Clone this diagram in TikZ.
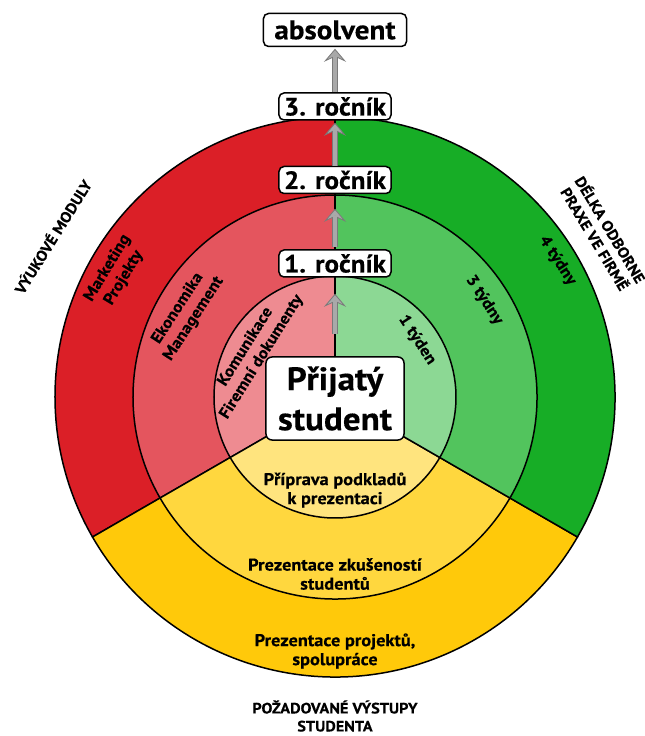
\documentclass[tikz,border=0pt]{standalone}
\usepackage{fontspec}
\setmainfont{PT Sans}[BoldFeatures={FakeStretch=1.08,FakeBold=0.35}]
\usetikzlibrary{arrows.meta}
\definecolor{redA}{HTML}{DB1F27}
\definecolor{redB}{HTML}{E4555E}
\definecolor{redC}{HTML}{EE8B91}
\definecolor{grnA}{HTML}{17AD26}
\definecolor{grnB}{HTML}{52C45D}
\definecolor{grnC}{HTML}{8CD894}
\definecolor{ylwA}{HTML}{FFC90A}
\definecolor{ylwB}{HTML}{FFD73E}
\definecolor{ylwC}{HTML}{FFE47E}
\definecolor{arrlight}{HTML}{A9A9A9}
\definecolor{arrdark}{HTML}{7A7A7A}
% #1 from, #2 to, #3 shorten< (shaft), #4 shorten> dark shaft, #5 shorten> light shaft, #6 shorten> tip, #7 shorten< tip
\newcommand{\garrow}[7]{%
  \draw[line width=5.6pt, draw=arrdark, shorten <=#3, shorten >=#4] (#1) -- (#2);
  \draw[line width=0.8pt, draw=arrdark, shorten <=#7, shorten >=#6,
    -{Stealth[length=13pt,width=22pt,inset=5pt,fill=arrlight]}] (#1) -- (#2);
  \draw[line width=3.8pt, draw=arrlight, shorten <=#3, shorten >=#5] (#1) -- (#2);
}
\begin{document}
\begin{tikzpicture}[x=1pt,y=1pt,
  ring/.style={draw=black, line width=1.5pt},
  levelbox/.style={draw=black, fill=white, line width=1.5pt, rounded corners=5pt,
    font=\bfseries\fontsize{25}{28}\selectfont, inner sep=0pt, minimum height=27pt, minimum width=112pt},
  lbl/.style={font=\bfseries\fontsize{16}{19}\selectfont, align=center, inner sep=0pt},
  ttl/.style={font=\bfseries\fontsize{15}{18}\selectfont, align=center, inner sep=0pt},
  bigl/.style={font=\bfseries\fontsize{17}{19}\selectfont, align=center, inner sep=0pt}
]
\useasboundingbox (-335,-339) rectangle (310,397);
% outer ring
\filldraw[ring, fill=redA] (0,0) -- (90:280) arc[start angle=90, end angle=210, radius=280] -- cycle;
\filldraw[ring, fill=ylwA] (0,0) -- (210:280) arc[start angle=210, end angle=330, radius=280] -- cycle;
\filldraw[ring, fill=grnA] (0,0) -- (-30:280) arc[start angle=-30, end angle=90, radius=280] -- cycle;
% middle ring
\filldraw[ring, fill=redB] (0,0) -- (90:202) arc[start angle=90, end angle=210, radius=202] -- cycle;
\filldraw[ring, fill=ylwB] (0,0) -- (210:202) arc[start angle=210, end angle=330, radius=202] -- cycle;
\filldraw[ring, fill=grnB] (0,0) -- (-30:202) arc[start angle=-30, end angle=90, radius=202] -- cycle;
% inner ring
\filldraw[ring, fill=redC] (0,0) -- (90:121) arc[start angle=90, end angle=210, radius=121] -- cycle;
\filldraw[ring, fill=ylwC] (0,0) -- (210:121) arc[start angle=210, end angle=330, radius=121] -- cycle;
\filldraw[ring, fill=grnC] (0,0) -- (-30:121) arc[start angle=-30, end angle=90, radius=121] -- cycle;
\draw[ring] (0,0) -- (90:280);

% sector labels
\node[lbl, rotate=59] (mk) at (150.5:252) {Marketing\\Projekty};
\node[lbl, rotate=57] (ek) at (150.8:171) {Ekonomika\\Management};
\node[lbl, rotate=58] (ko) at (151:93) {Komunikace\\Firemní dokumenty};
\node[lbl, rotate=-57] (t4) at (31.5:261) {4 týdny};
\node[lbl, rotate=-57] (t3) at (33:178) {3 týdny};
\node[lbl, rotate=-57] (t1) at (34.8:100) {1 týden};
\node[bigl] (pp) at (0,-93) {Příprava podkladů\\k prezentaci};
\node[bigl] (pz) at (0,-177) {Prezentace zkušeností\\studentů};
\node[bigl] (pj) at (0,-254) {Prezentace projektů,\\spolupráce};

% outer titles
\node[ttl, rotate=58] (vm) at (150.4:325) {VÝUKOVÉ MODULY};
\node[ttl, rotate=-59] (dp) at (31.3:314) {DÉLKA ODBORNE\\PRAXE VE FIRMĚ};
\node[ttl] (ps) at (0,-319) {POŽADOVANÉ VÝSTUPY\\STUDENTA};

% boxes
\node[levelbox] (r3) at (0,290.5) {3. ročník};
\node[levelbox] (r2) at (0,217) {2. ročník};
\node[levelbox] (r1) at (0,133.5) {1. ročník};
\node[levelbox, minimum width=143pt, minimum height=33pt,
  font=\bfseries\fontsize{27}{30}\selectfont] (ab) at (0,367) {absolvent};
\node[draw=black, fill=white, line width=1.5pt, rounded corners=6pt, inner sep=0pt,
  minimum width=138pt, minimum height=83pt, align=center,
  font=\bfseries\fontsize{32.5}{40}\selectfont] (st) at (0,-1.5) {Přijatý\\student};

% arrows
\garrow{r3.north}{ab.south}{0pt}{7.5pt}{8.5pt}{1.5pt}{29pt}
\garrow{r2.north}{r3.south}{0pt}{8pt}{9pt}{2pt}{28.5pt}
\garrow{r1.north}{r2.south}{2pt}{20.5pt}{21.5pt}{14.5pt}{26pt}
\garrow{st.north}{r1.south}{22pt}{22pt}{23pt}{16pt}{48pt}
\end{tikzpicture}
\end{document}
